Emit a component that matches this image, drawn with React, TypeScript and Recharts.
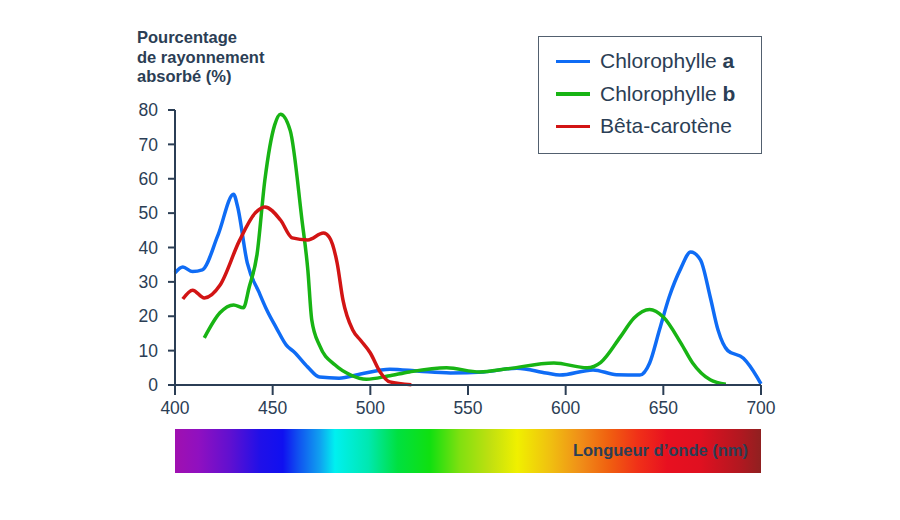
import React from 'react';
import { LineChart, Line, XAxis, YAxis } from 'recharts';

// wavelength (nm) / absorbed radiation (%)
const chlANm = [400, 404, 409, 414, 422, 430, 432, 437, 443, 447, 452, 457, 461, 468, 474, 484, 495, 510, 525, 541, 558, 575, 590, 597, 614, 626, 638, 643, 648, 653, 659, 664, 669, 674, 678, 683, 691, 698, 700];
const chlAVal = [32.6, 34.3, 33, 33.5, 43.6, 55.5, 52, 35.5, 27, 21.8, 16.5, 11.6, 9.6, 5.2, 2.3, 2, 3.2, 4.6, 4, 3.5, 3.8, 4.9, 3.5, 2.9, 4.4, 3, 2.9, 6.4, 16, 25.6, 34, 38.7, 36.4, 25.6, 16, 10, 7.8, 2.3, 0.3];

const chlBNm = [415, 423, 430, 435, 438, 442, 446, 451, 454, 459, 465, 468, 470, 474, 482, 490, 498, 509, 520, 539, 556, 570, 594, 611, 618, 628, 635, 643, 650, 659, 665, 674, 682];
const chlBVal = [13.7, 21, 23.3, 22.5, 28.5, 38, 59.6, 75.6, 78.8, 74, 48, 33.5, 19, 11.5, 5.8, 2.9, 1.7, 2.6, 3.8, 5, 3.8, 4.7, 6.4, 5, 6.6, 14, 19.5, 22, 19.8, 12.2, 6.4, 1.5, 0.2];

const caroNm = [404, 409, 415, 423, 433, 441, 446, 454, 460, 468, 476, 479, 483, 486, 491, 495, 500, 505, 510, 521];
const caroVal = [25, 27.6, 25.3, 29, 42, 50, 51.8, 48, 42.8, 42.2, 44.2, 43, 35.5, 24.7, 16, 13, 9.3, 3.8, 0.9, 0.1];

const xTicks = [400, 450, 500, 550, 600, 650, 700];
const yTicks = [0, 10, 20, 30, 40, 50, 60, 70, 80];

// colour band under the x axis (colour, % of width)
const spectrumStops: [string, number][] = [
  ['#a010b0', 0], ['#9010c0', 4], ['#6010d0', 9.4], ['#2010e8', 14.5], ['#1010f0', 18.4],
  ['#1050f0', 21], ['#10a0f0', 24.7], ['#00f0f0', 27.3], ['#00e8b0', 33], ['#00e040', 38],
  ['#10e010', 43.5], ['#80e010', 48.6], ['#c0e010', 53.8], ['#f0f000', 58.4], ['#f0c010', 64],
  ['#f09018', 69], ['#f06010', 74], ['#f03018', 79], ['#e81020', 84], ['#e01020', 89.6],
  ['#b01820', 96.6], ['#902020', 100],
];

const ink = '#2b3e55';
const font = '"Liberation Sans", Arial, sans-serif';

const toPoints = (nm: number[], val: number[]) => nm.map((x, i) => ({ nm: x, v: val[i] }));

const series = [
  { name: 'Chlorophylle ', bold: 'a', color: '#0f6cf5', data: toPoints(chlANm, chlAVal) },
  { name: 'Chlorophylle ', bold: 'b', color: '#18b414', data: toPoints(chlBNm, chlBVal) },
  { name: 'Bêta-carotène', bold: '', color: '#d21414', data: toPoints(caroNm, caroVal) },
];

function LegendBox() {
  return (
    <div style={{ position: 'absolute', left: 538, top: 36, border: `1.5px solid #52606f`, background: '#fff', width: 224, height: 118, boxSizing: 'border-box', padding: '8px 0 0 17px' }}>
      {series.map((s) => (
        <div key={s.name + s.bold} style={{ display: 'flex', alignItems: 'center', height: 32.5 }}>
          <div style={{ width: 34, height: 3.5, background: s.color, marginRight: 10 }} />
          <span style={{ fontSize: 21, color: ink }}>
            {s.name}
            {s.bold && <b>{s.bold}</b>}
          </span>
        </div>
      ))}
    </div>
  );
}

export default function App() {
  const gradient = `linear-gradient(to right, ${spectrumStops.map(([c, p]) => `${c} ${p}%`).join(', ')})`;
  return (
    <div style={{ position: 'fixed', left: 0, top: 0, width: 900, height: 520, background: '#fff', fontFamily: font }}>
      <div style={{ position: 'absolute', left: 137, top: 28, fontSize: 16.5, fontWeight: 'bold', color: ink, lineHeight: '19.5px' }}>
        Pourcentage<br />de rayonnement<br />absorbé (%)
      </div>
      <LineChart width={900} height={520} margin={{ top: 110, right: 139, left: 135, bottom: 105 }}>
        <XAxis
          dataKey="nm"
          type="number"
          domain={[400, 700]}
          ticks={xTicks}
          interval={0}
          height={30}
          stroke={ink}
          strokeWidth={2}
          tickSize={10}
          tickMargin={7}
          tick={{ fill: ink, fontSize: 17.5, fontFamily: font }}
        />
        <YAxis
          dataKey="v"
          type="number"
          domain={[0, 80]}
          ticks={yTicks}
          interval={0}
          width={40}
          stroke={ink}
          strokeWidth={2}
          tickSize={7}
          tickMargin={10}
          tick={{ fill: ink, fontSize: 17.5, fontFamily: font }}
        />
        {series.map((s) => (
          <Line
            key={s.name + s.bold}
            data={s.data}
            dataKey="v"
            type="monotone"
            stroke={s.color}
            strokeWidth={3.5}
            dot={false}
            isAnimationActive={false}
          />
        ))}
      </LineChart>
      <LegendBox />
      <div style={{ position: 'absolute', left: 175, top: 429, width: 586, height: 44, background: gradient }}>
        <div style={{ position: 'absolute', right: 13, top: 12, fontSize: 16.5, fontWeight: 'bold', color: ink }}>
          Longueur d’onde (nm)
        </div>
      </div>
    </div>
  );
}
